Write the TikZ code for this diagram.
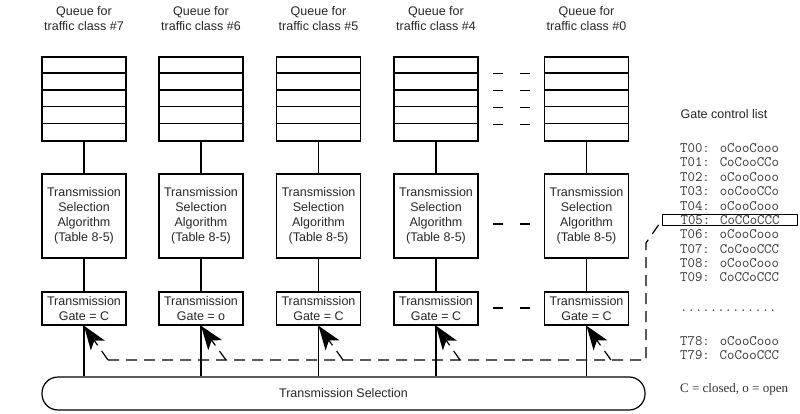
\documentclass[tikz,border=0pt]{standalone}
\usepackage{fontspec}
\setmainfont{Liberation Sans}
\newfontfamily\keyfont{Liberation Serif}
\usetikzlibrary{arrows.meta,positioning}

\begin{document}
\begin{tikzpicture}[x=1pt,y=-1pt,
  lbl/.style={font=\fontsize{12.5}{15}\selectfont, align=center, text=black!85},
  queue/.style={draw, line width=1.6pt, minimum width=84pt, minimum height=84pt, inner sep=0pt},
  algo/.style={draw, line width=1.6pt, minimum width=84pt, minimum height=84pt, inner sep=0pt, lbl},
  gatebox/.style={draw, line width=1.6pt, minimum width=84pt, minimum height=33pt, inner sep=0pt, lbl},
  ctl/.style={dash pattern=on 11pt off 7pt, line width=1.2pt},
  gctl/.style={ctl, -{Stealth[length=24pt,width=17pt,inset=6pt,fill=black]}},
  gcl/.style={font=\ttfamily\fontsize{14.4}{14.4}\selectfont, anchor=west, inner sep=0pt, text=black!80}]
\useasboundingbox (0,0) rectangle (800,414);

% Queue titles
\node[lbl] (h7) at (84,19) {Queue for\\traffic class \#7};
\node[lbl] (h6) at (201,19) {Queue for\\traffic class \#6};
\node[lbl] (h5) at (318.5,19) {Queue for\\traffic class \#5};
\node[lbl] (h4) at (436,19) {Queue for\\traffic class \#4};
\node[lbl] (h0) at (586.5,19) {Queue for\\traffic class \#0};

% Queues
\node[queue] (q7) at (84,99) {};
\node[queue] (q6) at (201,99) {};
\node[queue] (q5) at (318.5,99) {};
\node[queue] (q4) at (436,99) {};
\node[queue] (q0) at (586.5,99) {};
\foreach \c in {q7,q6,q5,q4,q0}
  \foreach \k in {1,...,4}
    \draw[line width=1.6pt] (\c.north west) ++(0,16.8*\k) -- ++(84,0);

% Transmission selection algorithms
\node[algo] (algo7) at (84,216) {Transmission\\Selection\\Algorithm\\(Table 8-5)};
\node[algo] (algo6) at (201,216) {Transmission\\Selection\\Algorithm\\(Table 8-5)};
\node[algo] (algo5) at (318.5,216) {Transmission\\Selection\\Algorithm\\(Table 8-5)};
\node[algo] (algo4) at (436,216) {Transmission\\Selection\\Algorithm\\(Table 8-5)};
\node[algo] (algo0) at (586.5,216) {Transmission\\Selection\\Algorithm\\(Table 8-5)};

% Gates
\node[gatebox] (gate7) at (84,308.5) {Transmission\\Gate = C};
\node[gatebox] (gate6) at (201,308.5) {Transmission\\Gate = o};
\node[gatebox] (gate5) at (318.5,308.5) {Transmission\\Gate = C};
\node[gatebox] (gate4) at (436,308.5) {Transmission\\Gate = C};
\node[gatebox] (gate0) at (586.5,308.5) {Transmission\\Gate = C};

% Transmission selection
\node[draw, line width=1.2pt, rounded corners=16pt, minimum width=603pt, minimum height=33pt, lbl] (ts) at (343.5,393.5) {Transmission Selection};

% Connections
\foreach \c in {7,6,5,4,0} {
  \draw[line width=1.2pt] (q\c) -- (algo\c) -- (gate\c);
  \draw[line width=1.2pt] (gate\c) -- (gate\c |- ts.north);
}

% More queues
\foreach \y in {73.8,90.6,107.4,124.2,224,308}
  \draw[line width=1.2pt, dash pattern=on 10pt off 17pt] (493,\y) -- (530,\y);

% Gate control list
\node[lbl] (gclt) at (724,114) {Gate control list};
\node[gcl] (t00) at (680,148) {T00: oCooCooo};
\node[gcl] (t01) at (680,162.4) {T01: CoCooCCo};
\node[gcl] (t02) at (680,176.8) {T02: oCooCooo};
\node[gcl] (t03) at (680,191.2) {T03: ooCooCCo};
\node[gcl] (t04) at (680,205.6) {T04: oCooCooo};
\node[gcl, draw=black, line width=1.2pt, inner xsep=18pt, inner ysep=1pt] (t05) at (662,220) {T05: CoCCoCCC};
\node[gcl] (t06) at (680,234.4) {T06: oCooCooo};
\node[gcl] (t07) at (680,248.8) {T07: CoCooCCC};
\node[gcl] (t08) at (680,263.2) {T08: oCooCooo};
\node[gcl] (t09) at (680,277.6) {T09: CoCCoCCC};
\node[gcl] (tdots) at (680,311) {.............};
\node[gcl] (t78) at (680,341) {T78: oCooCooo};
\node[gcl] (t79) at (680,355) {T79: CoCooCCC};
\node[anchor=west, inner sep=0pt, font=\keyfont\fontsize{13}{13}\selectfont, text=black!80] (key) at (680,389) {C = closed, o = open};

% Gate control
\coordinate (a7) at (108,360);
\coordinate (a6) at (226,360);
\coordinate (a5) at (343,360);
\coordinate (a4) at (460,360);
\coordinate (a0) at (611,360);
\coordinate (up) at (646,360);
\coordinate (turn) at (646,243);
\draw[ctl] (a7) -- (up) -- (turn) -- (t05.west);
\draw[gctl] (a7) -- (gate7.south);
\draw[gctl] (a6) -- (gate6.south);
\draw[gctl] (a5) -- (gate5.south);
\draw[gctl] (a4) -- (gate4.south);
\draw[gctl] (a0) -- (gate0.south);
\end{tikzpicture}
\end{document}
